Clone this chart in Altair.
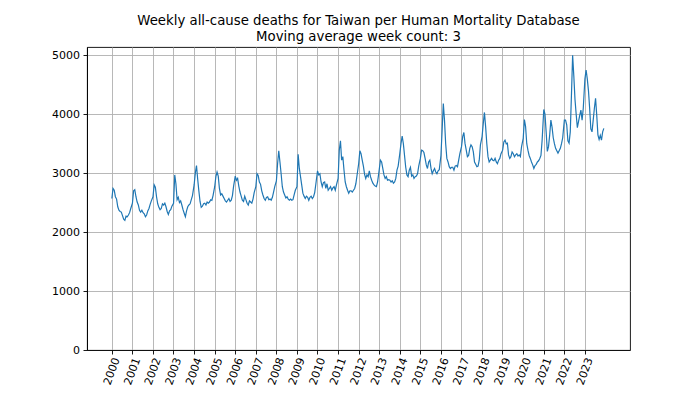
import altair as alt
import pandas as pd

TITLE = ["Weekly all-cause deaths for Taiwan per Human Mortality Database",
         "Moving average week count: 3"]
X_TICKS = list(range(2000, 2024))
Y_TICKS = [0, 1000, 2000, 3000, 4000, 5000]

# 3-week moving-average weekly deaths, one value every 3 weeks of each year
W2000 = [2570, 2740, 2710, 2600, 2560, 2430, 2370, 2350, 2340, 2280, 2220, 2200, 2270, 2260, 2290, 2330, 2400]
W2001 = [2490, 2700, 2720, 2600, 2510, 2460, 2370, 2340, 2370, 2330, 2310, 2260, 2290, 2360, 2400, 2470, 2530]
W2002 = [2600, 2800, 2760, 2600, 2480, 2420, 2380, 2400, 2480, 2460, 2490, 2430, 2350, 2300, 2360, 2380, 2440]
W2003 = [2490, 2970, 2820, 2550, 2590, 2500, 2530, 2460, 2380, 2320, 2260, 2360, 2430, 2460, 2480, 2550, 2620]
W2004 = [2800, 3000, 3130, 2900, 2700, 2520, 2420, 2440, 2480, 2490, 2460, 2510, 2490, 2510, 2550, 2540, 2620]
W2005 = [2770, 2940, 3020, 2950, 2740, 2630, 2650, 2610, 2570, 2530, 2510, 2540, 2570, 2520, 2540, 2620, 2780]
W2006 = [2950, 2880, 2910, 2780, 2680, 2610, 2540, 2520, 2610, 2550, 2490, 2460, 2530, 2510, 2490, 2560, 2670]
W2007 = [2770, 2990, 2960, 2850, 2810, 2700, 2630, 2570, 2540, 2590, 2600, 2550, 2560, 2540, 2590, 2680, 2770]
W2008 = [2870, 3160, 3380, 3190, 2990, 2770, 2680, 2630, 2580, 2600, 2560, 2540, 2560, 2540, 2550, 2630, 2710]
W2009 = [2770, 3320, 3080, 2940, 2800, 2660, 2610, 2570, 2610, 2590, 2540, 2590, 2610, 2570, 2600, 2670, 2820]
W2010 = [3040, 2970, 2990, 2850, 2770, 2840, 2850, 2740, 2820, 2710, 2740, 2770, 2710, 2750, 2770, 2710, 2800]
W2011 = [2910, 3390, 3550, 3220, 3280, 3050, 2850, 2770, 2710, 2660, 2700, 2700, 2680, 2710, 2740, 2820, 2960]
W2012 = [3160, 3380, 3330, 3220, 3120, 2980, 2910, 2970, 2940, 3040, 2940, 2880, 2830, 2800, 2780, 2770, 2850]
W2013 = [3060, 3220, 3190, 3080, 2970, 2910, 2940, 2880, 2890, 2880, 2850, 2870, 2830, 2850, 2910, 3050, 3120]
W2014 = [3330, 3500, 3630, 3500, 3300, 3100, 2970, 2940, 3050, 3100, 2950, 2970, 2910, 2940, 2950, 2990, 3120]
W2015 = [3250, 3390, 3380, 3350, 3250, 3140, 3080, 3190, 3220, 3080, 2990, 3040, 3080, 3020, 2990, 3040, 3060]
W2016 = [3300, 3730, 4180, 3900, 3500, 3250, 3190, 3110, 3080, 3100, 3100, 3050, 3120, 3130, 3110, 3220, 3330]
W2017 = [3450, 3620, 3690, 3500, 3390, 3280, 3300, 3420, 3480, 3450, 3360, 3190, 3150, 3110, 3120, 3220, 3480]
W2018 = [3620, 3840, 4030, 3790, 3500, 3280, 3190, 3220, 3250, 3220, 3210, 3250, 3190, 3160, 3220, 3250, 3330]
W2019 = [3390, 3530, 3560, 3500, 3510, 3310, 3250, 3280, 3360, 3330, 3280, 3310, 3330, 3290, 3310, 3280, 3450]
W2020 = [3590, 3910, 3790, 3500, 3390, 3300, 3250, 3190, 3140, 3080, 3130, 3150, 3190, 3210, 3250, 3300, 3560]
W2021 = [4080, 4000, 3700, 3370, 3450, 3650, 3900, 3780, 3600, 3500, 3420, 3380, 3340, 3380, 3420, 3500, 3600]
W2022 = [3900, 3900, 3820, 3550, 3510, 3700, 4320, 5000, 4650, 4250, 4000, 3770, 3880, 3980, 4070, 3900, 4100]
W2023 = [4600, 4750, 4600, 4400, 4100, 3750, 3700, 3900, 4100, 4270, 3980, 3650, 3570, 3640, 3560, 3700, 3760]

SERIES = {
    2000: W2000, 2001: W2001, 2002: W2002, 2003: W2003, 2004: W2004, 2005: W2005,
    2006: W2006, 2007: W2007, 2008: W2008, 2009: W2009, 2010: W2010, 2011: W2011,
    2012: W2012, 2013: W2013, 2014: W2014, 2015: W2015, 2016: W2016, 2017: W2017,
    2018: W2018, 2019: W2019, 2020: W2020, 2021: W2021, 2022: W2022, 2023: W2023,
}

rows = []
for yr, vals in SERIES.items():
    for i, v in enumerate(vals):
        rows.append({"t": yr + (21 * i + 3) / 365.25, "deaths": v})
df = pd.DataFrame(rows)

FONT = "DejaVu Sans"

line = alt.Chart(df).mark_line(color="#1f77b4", strokeWidth=1.2).encode(
    x=alt.X(
        "t:Q",
        scale=alt.Scale(domain=[1998.8, 2025.2], nice=False, zero=False),
        axis=alt.Axis(
            values=X_TICKS, format="d", title=None,
            labelAngle=290, labelAlign="center", labelBaseline="middle",
            labelPadding=17, labelOverlap=False, labelFlush=False, labelBound=False,
        ),
    ),
    y=alt.Y(
        "deaths:Q",
        scale=alt.Scale(domain=[0, 5140], nice=False),
        axis=alt.Axis(values=Y_TICKS, format="d", title=None, labelPadding=3.5),
    ),
)

chart = line.properties(
    width=543,
    height=303,
    title=alt.TitleParams(
        text=TITLE, font=FONT, fontSize=13.3, fontWeight="normal", color="black",
        anchor="middle", baseline="alphabetic", lineHeight=16, offset=7, dy=14,
    ),
    autosize=alt.AutoSizeParams(type="none"),
    padding={"left": 79, "top": 39, "right": 62, "bottom": 40},
).configure_view(
    stroke="black", strokeWidth=0.9
).configure_axis(
    labelFont=FONT, labelFontSize=11, labelColor="black",
    domainColor="black", domainWidth=0.9,
    tickColor="black", tickSize=4, tickWidth=0.9,
    grid=True, gridColor="#b0b0b0", gridWidth=0.9,
)

chart.save("out.html", embed_options={"renderer": "svg", "actions": False})
